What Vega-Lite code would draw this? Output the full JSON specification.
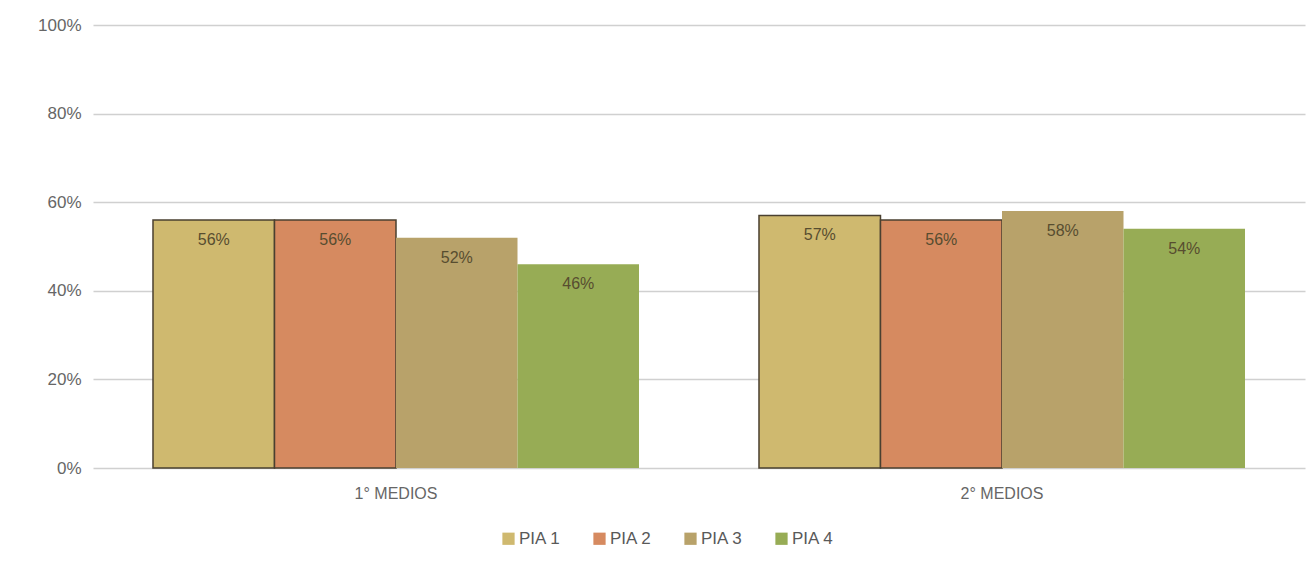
{
  "$schema": "https://vega.github.io/schema/vega-lite/v6.json",
  "width": 1212,
  "height": 443,
  "autosize": {"type": "none"},
  "padding": {"left": 93, "top": 25, "right": 8, "bottom": 94},
  "background": "white",
  "config": {
    "view": {"stroke": null},
    "font": "Liberation Sans",
    "axis": {"labelFont": "Liberation Sans", "labelColor": "#666666", "labelFontSize": 17}
  },
  "data": {
    "values": [
      {"grupo": "1° MEDIOS", "serie": "PIA 1", "valor": 0.56},
      {"grupo": "1° MEDIOS", "serie": "PIA 2", "valor": 0.56},
      {"grupo": "1° MEDIOS", "serie": "PIA 3", "valor": 0.52},
      {"grupo": "1° MEDIOS", "serie": "PIA 4", "valor": 0.46},
      {"grupo": "2° MEDIOS", "serie": "PIA 1", "valor": 0.57},
      {"grupo": "2° MEDIOS", "serie": "PIA 2", "valor": 0.56},
      {"grupo": "2° MEDIOS", "serie": "PIA 3", "valor": 0.58},
      {"grupo": "2° MEDIOS", "serie": "PIA 4", "valor": 0.54}
    ]
  },
  "encoding": {
    "x": {
      "field": "grupo", "type": "nominal", "title": null,
      "scale": {"paddingInner": 0.198, "paddingOuter": 0.099},
      "axis": {"labelAngle": 0, "ticks": false, "domain": false, "labelPadding": 17, "labelFontSize": 16}
    },
    "xOffset": {"field": "serie", "type": "nominal", "scale": {"paddingInner": 0, "paddingOuter": 0}},
    "y": {
      "field": "valor", "type": "quantitative", "title": null,
      "scale": {"domain": [0, 1]},
      "axis": {"format": ".0%", "values": [0, 0.2, 0.4, 0.6, 0.8, 1], "labelOverlap": false, "ticks": false, "domain": false, "labelPadding": 12, "gridColor": "#d0d0d0", "gridWidth": 1.5}
    }
  },
  "layer": [
    {
      "mark": {"type": "bar", "strokeWidth": 1.5},
      "encoding": {
        "color": {
          "field": "serie", "type": "nominal", "title": null,
          "scale": {"domain": ["PIA 1", "PIA 2", "PIA 3", "PIA 4"], "range": ["#CFB96F", "#D68A60", "#B8A26A", "#97AC55"]},
          "legend": {"orient": "none", "legendX": 407, "legendY": 505, "direction": "horizontal", "symbolType": "square", "symbolSize": 150, "symbolStrokeWidth": 0, "labelFontSize": 17, "labelColor": "#595959", "labelFont": "Liberation Sans", "columnPadding": 30, "labelOffset": 2}
        },
        "stroke": {
          "field": "serie", "type": "nominal",
          "scale": {"domain": ["PIA 1", "PIA 2", "PIA 3", "PIA 4"], "range": ["#4a4030", "#4a4030", "transparent", "transparent"]},
          "legend": null
        }
      }
    },
    {
      "mark": {"type": "text", "baseline": "middle", "dy": 20, "fontSize": 16, "color": "#574d30", "font": "Liberation Sans"},
      "encoding": {
        "text": {"field": "valor", "type": "quantitative", "format": ".0%"}
      }
    }
  ]
}
